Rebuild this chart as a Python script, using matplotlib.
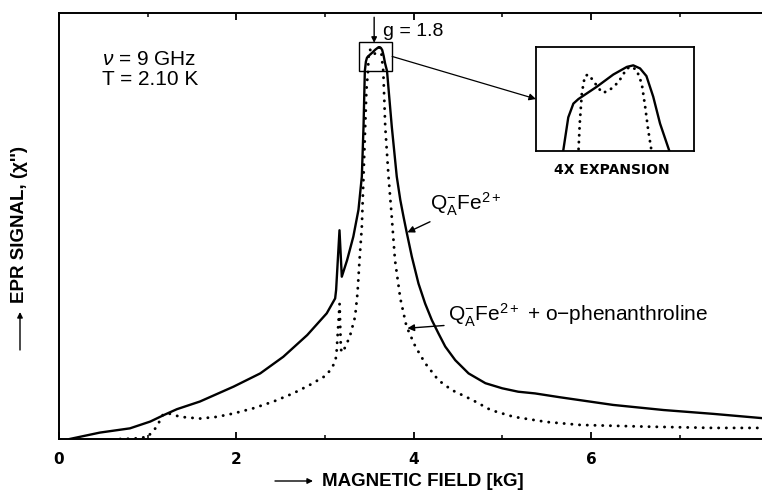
import matplotlib
matplotlib.use("Agg")
import matplotlib.pyplot as plt
from matplotlib.patches import Rectangle, ConnectionPatch

plt.rcParams['font.family'] = ['Liberation Sans', 'DejaVu Sans']
plt.rcParams['mathtext.fontset'] = 'custom'
plt.rcParams['mathtext.rm'] = 'Liberation Sans'
plt.rcParams['mathtext.it'] = 'Liberation Sans:italic'

# ---- data (magnetic field in kG, signal normalised) ----
solid_field = [0.12, 0.46, 0.80, 1.03, 1.18, 1.33, 1.59, 1.97, 2.27, 2.53, 2.80, 3.02,
               3.115, 3.126, 3.164, 3.19, 3.25, 3.32, 3.378, 3.416, 3.435,
               3.450, 3.462, 3.474, 3.486, 3.529, 3.568, 3.600, 3.615, 3.631, 3.646,
               3.662, 3.678, 3.700, 3.754, 3.81, 3.85, 3.886, 3.924, 3.98, 4.055,
               4.13, 4.206, 4.28, 4.357, 4.47, 4.62, 4.81, 5.0, 5.18, 5.37, 5.65,
               6.25, 6.82, 7.38, 7.93]
solid_signal = [0.0, 0.015, 0.025, 0.041, 0.056, 0.070, 0.088, 0.123, 0.154, 0.193, 0.244, 0.295,
                0.330, 0.35, 0.49, 0.381, 0.42, 0.475, 0.538, 0.616, 0.733,
                0.864, 0.886, 0.895, 0.898, 0.906, 0.914, 0.919, 0.920, 0.918, 0.913,
                0.8995, 0.882, 0.864, 0.733, 0.616, 0.561, 0.522, 0.483, 0.428, 0.365,
                0.318, 0.279, 0.248, 0.217, 0.185, 0.154, 0.131, 0.119, 0.111, 0.107, 0.098,
                0.080, 0.068, 0.059, 0.049]

dotted_field = [0.69, 0.85, 1.0, 1.10, 1.17, 1.22, 1.37, 1.59, 1.78, 1.97, 2.19, 2.42, 2.64,
                2.83, 3.02, 3.115, 3.13, 3.165, 3.18, 3.20, 3.28, 3.34, 3.367, 3.39, 3.416,
                3.435, 3.454, 3.468, 3.486, 3.489, 3.494, 3.501, 3.509, 3.521, 3.533,
                3.544, 3.560, 3.580, 3.600, 3.611, 3.623, 3.635, 3.643, 3.650, 3.658,
                3.68, 3.717, 3.754, 3.79, 3.85, 3.92, 4.02, 4.13, 4.28, 4.43, 4.66,
                4.87, 5.13, 5.50, 5.88, 6.63, 7.38, 7.93]
dotted_signal = [0.0, 0.001, 0.005, 0.028, 0.056, 0.061, 0.052, 0.048, 0.052, 0.060, 0.072,
                 0.088, 0.107, 0.127, 0.150, 0.180, 0.20, 0.317, 0.21, 0.203, 0.24, 0.287,
                 0.342, 0.42, 0.498, 0.616, 0.733, 0.82, 0.864, 0.882, 0.902, 0.913, 0.914,
                 0.910, 0.905, 0.902, 0.904, 0.909, 0.918, 0.919, 0.917, 0.908, 0.893,
                 0.878, 0.864, 0.733, 0.616, 0.52, 0.42, 0.33, 0.264, 0.217, 0.178,
                 0.138, 0.115, 0.092, 0.068, 0.052, 0.040, 0.033, 0.029, 0.026, 0.026]

major_ticks = [0, 2, 4, 6]
major_labels = ['0', '2', '4', '6']
minor_ticks = [1, 3, 5, 7]
zoom_box = (3.386, 3.758, 0.864, 0.932)

fig = plt.figure(figsize=(7.62, 4.90), dpi=100)
ax = fig.add_axes([59/762, 51/490, 703/762, 426/490])

ax.plot(solid_field, solid_signal, color='black', lw=1.7, solid_joinstyle='round')
ax.plot(dotted_field, dotted_signal, color='black', linestyle=(0, (0.05, 2.6)),
        lw=2.1, dash_capstyle='round')

ax.set_xlim(0, 7.93)
ax.set_ylim(0, 1.0)
ax.spines['right'].set_visible(False)
for s in ['left', 'bottom', 'top']:
    ax.spines[s].set_linewidth(1.4)
ax.set_yticks([])
ax.set_xticks(major_ticks)
ax.set_xticklabels(major_labels, fontweight='bold', fontsize=11, family='DejaVu Sans')
ax.set_xticks(minor_ticks, minor=True)
ax.tick_params(axis='x', which='major', direction='in', length=5, width=1.3,
               top=True, pad=9)
ax.tick_params(axis='x', which='minor', direction='in', length=3, width=1.1, top=True)

# text annotations
ax.text(0.485, 0.89, r'$\nu$ = 9 GHz', fontsize=15, va='center', ha='left')
ax.text(0.485, 0.843, 'T = 2.10 K', fontsize=15, va='center', ha='left')
ax.text(3.65, 0.957, 'g = 1.8', fontsize=14, va='center', ha='left')
ax.annotate('', xy=(3.555, 0.93), xytext=(3.555, 0.99),
            arrowprops=dict(arrowstyle='-|>', color='black', lw=1.0,
                            mutation_scale=8, shrinkA=0, shrinkB=0))
ax.annotate(r'$\mathrm{Q_A^{-}Fe^{2+}}$', xy=(3.93, 0.485), xytext=(4.19, 0.55),
            fontsize=15, va='center', ha='left',
            arrowprops=dict(arrowstyle='-|>', color='black', lw=1.0,
                            mutation_scale=10, shrinkA=1, shrinkB=0))
ax.annotate(r'$\mathrm{Q_A^{-}Fe^{2+}}$ + o$-$phenanthroline', xy=(3.93, 0.26),
            xytext=(4.39, 0.29), fontsize=15, va='center', ha='left',
            arrowprops=dict(arrowstyle='-|>', color='black', lw=1.0,
                            mutation_scale=10, shrinkA=1, shrinkB=0))

# zoom box
x0, x1, y0, y1 = zoom_box
ax.add_patch(Rectangle((x0, y0), x1 - x0, y1 - y0, fill=False, lw=1.0, color='black'))

# inset
ins = fig.add_axes([536/762, (490-151)/490, 158/762, 104/490])
ins.plot(solid_field, solid_signal, color='black', lw=1.7)
ins.plot(dotted_field, dotted_signal, color='black', linestyle=(0, (0.05, 2.3)),
         lw=2.1, dash_capstyle='round')
ins.set_xlim(x0, x1)
ins.set_ylim(y0, y1)
ins.set_xticks([])
ins.set_yticks([])
for s in ins.spines.values():
    s.set_linewidth(1.3)
fig.text(612/762, 1 - 170/490, '4X EXPANSION', fontsize=10, fontweight='bold',
         ha='center', va='center', family='DejaVu Sans')

con = ConnectionPatch(xyA=(x1, (y0 + y1) / 2), coordsA=ax.transData,
                      xyB=(0, 0.5), coordsB=ins.transAxes,
                      arrowstyle='-|>', color='black', lw=0.9, mutation_scale=10,
                      shrinkA=0, shrinkB=0)
fig.add_artist(con)

# axis labels with leading arrows
fig.text(322/762, 1 - 481/490, 'MAGNETIC FIELD [kG]', fontsize=13.5, ha='left',
         va='center', fontweight='bold')
fig.add_artist(ConnectionPatch(xyA=(275/762, 1 - 481/490), coordsA=fig.transFigure,
                               xyB=(313/762, 1 - 481/490), coordsB=fig.transFigure,
                               arrowstyle='-|>', color='black', lw=1.0,
                               mutation_scale=8, shrinkA=0, shrinkB=0))
fig.text(20/762, 1 - 303/490, "EPR SIGNAL, (χ'')", fontsize=13.5, ha='center',
         va='bottom', rotation=90, fontweight='bold')
fig.add_artist(ConnectionPatch(xyA=(20/762, 1 - 350/490), coordsA=fig.transFigure,
                               xyB=(20/762, 1 - 312/490), coordsB=fig.transFigure,
                               arrowstyle='-|>', color='black', lw=1.0,
                               mutation_scale=8, shrinkA=0, shrinkB=0))

fig.savefig('out.png', dpi=100)
